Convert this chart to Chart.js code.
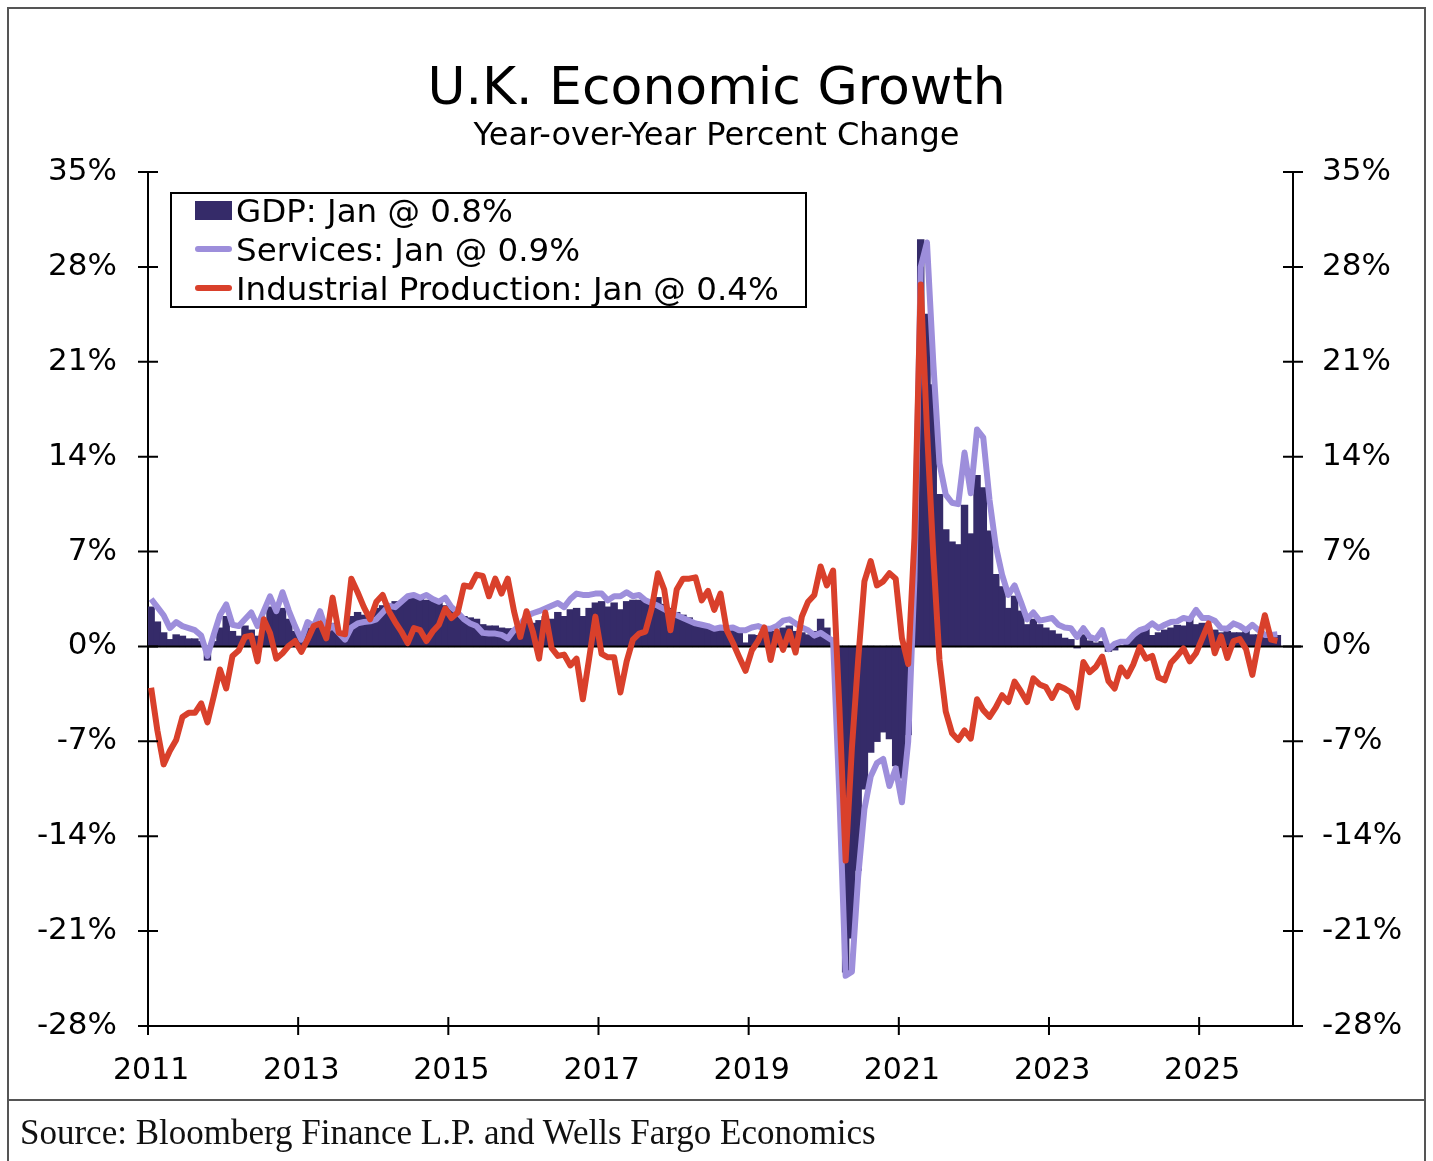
<!DOCTYPE html>
<html lang="en">
<head>
  <meta charset="UTF-8" />
  <title>U.K. Economic Growth</title>
  <script src="https://cdn.jsdelivr.net/npm/chart.js"></script>
  <style>
    body { margin: 0; background: #fff; }
    #page {
      position: relative;
      width: 1433px;
      height: 1161px;
      overflow: hidden;
      font-family: "DejaVu Sans", Verdana, sans-serif;
      color: #000;
    }
    #frame {
      position: absolute; left: 7px; top: 7px; width: 1419px; height: 1180px;
      border: 2px solid #555; box-sizing: border-box;
    }
    #rule { position: absolute; left: 7px; top: 1099px; width: 1419px; border-top: 2px solid #555; }
    canvas { position: absolute; left: 0; top: 0; }
    #title {
      position: absolute; left: 0; width: 1433px; top: 60px;
      text-align: center; font-size: 52px; line-height: 52px;
    }
    #subtitle {
      position: absolute; left: 0; width: 1433px; top: 118px;
      text-align: center; font-size: 32px; line-height: 32px;
    }
    #legend {
      position: absolute; left: 170px; top: 192px; width: 637px; height: 116px;
      border: 2px solid #000; box-sizing: border-box; background: #fff;
    }
    .row { position: absolute; left: 64px; font-size: 32.5px; line-height: 39px; white-space: nowrap; }
    .swatch { position: absolute; left: 23px; width: 37px; }
    #source {
      position: absolute; left: 20px; top: 1115px;
      font-family: "Liberation Serif", "Times New Roman", serif;
      font-size: 35px; line-height: 35px; color: #111;
    }
  </style>
</head>
<body>
<div id="page">
  <canvas id="growthChart" width="1433" height="1161"></canvas>
  <div id="frame"></div>
  <div id="rule"></div>
  <div id="title">U.K. Economic Growth</div>
  <div id="subtitle">Year-over-Year Percent Change</div>
  <div id="legend">
    <div class="swatch" style="top:7px;height:19px;background:#352b69;"></div>
    <div class="row" style="top:-2px;">GDP: Jan @ 0.8%</div>
    <div class="swatch" style="top:52px;height:6px;border-radius:3px;background:#9d8edb;"></div>
    <div class="row" style="top:37px;">Services: Jan @ 0.9%</div>
    <div class="swatch" style="top:91px;height:6px;border-radius:3px;background:#d9402b;"></div>
    <div class="row" style="top:76px;">Industrial Production: Jan @ 0.4%</div>
  </div>
  <div id="source">Source: Bloomberg Finance L.P. and Wells Fargo Economics</div>
</div>

<script>
  // monthly categories, Jan 2011 .. Mar 2026 (data ends Jan 2026)
  const monthLabels = [];
  for (let y = 2011; y <= 2026; y++) {
    for (let m = 1; m <= 12; m++) monthLabels.push(y + '-' + String(m).padStart(2, '0'));
  }
  monthLabels.length = 183;

  const yearTicks = ['2011', '2013', '2015', '2017', '2019', '2021', '2023', '2025'];
  const yTicks = [-28, -21, -14, -7, 0, 7, 14, 21, 28, 35];

  // GDP, year-over-year % (bars)
  const gdp = [
    2.9, 1.8, 1.0, 0.5, 0.85, 0.75, 0.55, 0.55, 0.35, -1.0, 0.35, 1.35,
    2.2, 1.1, 0.75, 1.5, 1.2, 0.75, 1.5, 2.9, 2.7, 2.8, 2.0, 1.1,
    0.6, 1.35, 1.5, 1.8, 1.1, 1.7, 1.1, 1.0, 2.2, 2.5, 2.3, 2.3,
    2.8, 3.0, 3.1, 3.3, 3.3, 3.5, 3.6, 3.5, 3.4, 3.4, 3.2, 3.0,
    2.8, 2.4, 2.2, 2.1, 2.0, 1.6, 1.5, 1.5, 1.35, 1.3, 1.3, 1.5,
    1.7, 1.7, 1.9, 2.2, 2.0, 2.5, 2.2, 2.7, 2.8, 2.2, 2.8, 3.2,
    3.3, 2.9, 3.2, 2.7, 3.3, 3.4, 3.4, 3.3, 3.4, 3.6, 3.1, 2.8,
    2.5, 2.3, 2.1, 1.8, 1.6, 1.5, 1.4, 1.4, 1.3, 1.2, 1.0, 0.25,
    0.85, 0.8, 1.0, 1.1, 1.1, 1.35, 1.5, 1.1, 1.0, 0.85, 1.1, 2.0,
    1.35, 0.6, -6.5, -24.0, -21.5, -16.5, -10.5, -7.8, -7.0, -6.3, -6.8, -8.8,
    -9.7, -6.5, 4.5, 30.0, 24.5, 19.3, 11.2, 8.6, 7.7, 7.5, 10.4, 8.3,
    12.6, 11.7, 8.5, 5.3, 4.4, 2.8, 3.7, 2.6, 1.6, 2.0, 1.6, 1.35,
    1.15, 0.9, 0.6, 0.5, -0.1, 0.85, 0.4, 0.25, 0.35, -0.35, -0.25, 0.05,
    0.2, 0.7, 1.05, 1.3, 0.8, 1.0, 1.2, 1.35, 1.55, 1.5, 2.2, 1.6,
    1.7, 1.35, 1.2, 1.0, 1.1, 1.0, 1.0, 1.2, 0.85, 0.85, 0.75, 0.8,
    0.8
  ];

  // Services, year-over-year %
  const services = [
    3.5, 2.9, 2.3, 1.35, 1.8, 1.5, 1.35, 1.2, 0.8, -0.7, 0.85, 2.3,
    3.1, 1.6, 1.5, 2.0, 2.5, 1.5, 2.6, 3.7, 2.6, 4.0, 2.65, 1.5,
    0.5, 1.8, 1.5, 2.6, 1.2, 1.5, 1.0, 0.5, 1.4, 1.7, 1.8, 1.85,
    2.0, 2.5, 3.0, 2.9, 3.3, 3.7, 3.8, 3.6, 3.8, 3.5, 3.3, 3.6,
    2.9, 2.5, 2.0, 1.7, 1.5, 1.0, 0.95, 0.95, 0.85, 0.6, 1.2, 1.6,
    2.25, 2.45, 2.6, 2.8, 3.0, 3.2, 2.9, 3.5, 3.9, 3.8, 3.8, 3.9,
    3.9, 3.4, 3.7, 3.7, 4.0, 3.7, 3.8, 3.4, 3.2, 3.0, 2.75, 2.5,
    2.3, 2.1, 1.9, 1.7, 1.6, 1.5, 1.3, 1.4, 1.35, 1.4, 1.2, 1.2,
    1.4, 1.5, 1.3, 1.3, 1.5, 1.9, 2.0, 1.7, 1.4, 1.2, 0.8, 1.0,
    0.7, 0.4, -11.0, -24.3, -24.0, -17.0, -12.0, -9.6, -8.6, -8.3, -10.3, -9.0,
    -11.5, -7.0, 5.0, 28.0, 29.8, 21.0, 13.5, 11.2, 10.6, 10.5, 14.3, 11.3,
    16.0, 15.4, 10.8, 7.4, 5.3, 3.8, 4.5, 3.3, 2.0, 2.5, 1.9, 2.0,
    2.1, 1.6, 1.4, 1.35, 0.7, 1.35, 0.7, 0.55, 1.2, -0.2, 0.2, 0.35,
    0.35, 0.85, 1.2, 1.35, 1.7, 1.35, 1.6, 1.8, 1.85, 2.1, 2.0, 2.7,
    2.1, 2.1, 1.9, 1.35, 1.3, 1.7, 1.5, 1.2, 1.6, 1.2, 0.85, 0.85,
    0.9
  ];

  // Industrial production, year-over-year %
  const industrial = [
    -3.05, -6.2, -8.7, -7.7, -6.9, -5.2, -4.9, -4.9, -4.2, -5.6, -3.7, -1.7,
    -3.1, -0.7, -0.3, 0.7, 0.8, -1.1, 2.0, 1.0, -0.9, -0.5, 0.05, 0.4,
    -0.4, 0.5, 1.5, 1.7, 0.6, 3.6, 1.0, 0.9, 5.0, 4.0, 2.9, 2.0,
    3.3, 3.8, 2.6, 1.8, 1.1, 0.25, 1.35, 1.2, 0.4, 1.1, 1.6, 2.8,
    2.1, 2.5, 4.5, 4.4, 5.3, 5.2, 3.7, 5.0, 3.9, 5.0, 2.6, 0.7,
    2.6, 1.1, -0.9, 2.5, -0.1, -0.7, -0.6, -1.4, -0.9, -3.9, -0.9, 2.2,
    -0.55, -0.8, -0.8, -3.4, -1.1, 0.5, 0.95, 1.1, 2.8, 5.4, 4.2, 1.2,
    4.2, 5.0, 5.0, 5.1, 3.4, 4.1, 2.7, 3.9, 1.2, 0.25, -0.8, -1.8,
    -0.3, 0.4, 1.4, -1.0, 1.1, -0.25, 1.1, -0.45, 2.2, 3.3, 3.8, 5.9,
    4.5, 5.6, -4.5, -15.8, -7.5, -1.0, 4.8, 6.3, 4.5, 4.8, 5.4, 5.0,
    0.6, -1.3, 8.0, 26.7, 16.0, 6.8, -1.0, -4.8, -6.4, -6.9, -6.2, -6.8,
    -3.9, -4.7, -5.2, -4.5, -3.6, -4.1, -2.6, -3.3, -4.1, -2.35, -2.8, -3.0,
    -3.8, -2.9, -3.1, -3.4, -4.5, -1.15, -1.9, -1.5, -0.75, -2.55, -3.1, -1.55,
    -2.2, -1.3, -0.05, -0.9, -0.7, -2.3, -2.5, -1.2, -0.7, -0.15, -1.1, -0.5,
    0.6, 1.7, -0.5, 0.75, -0.85, 0.4, 0.55, -0.2, -2.1, 0.3, 2.3, 0.5,
    0.4
  ];

  // zero line over the bars, crossing tick marks on all three axes
  const axisMarks = {
    id: 'axisMarks',
    afterDatasetDraw(chart, args) {
      if (args.index !== 0) return;
      const { ctx, chartArea, scales } = chart;
      const y0 = scales.y.getPixelForValue(0);
      ctx.save();
      ctx.strokeStyle = '#000';
      ctx.lineWidth = 2;
      ctx.beginPath();
      ctx.moveTo(chartArea.left, y0);
      ctx.lineTo(chartArea.right + 8, y0);
      ctx.stroke();
      ctx.restore();
    },
    afterDraw(chart) {
      const { ctx, chartArea, scales } = chart;
      ctx.save();
      ctx.strokeStyle = '#000';
      ctx.lineWidth = 2;
      ctx.beginPath();
      yTicks.forEach(v => {
        const p = scales.y.getPixelForValue(v);
        ctx.moveTo(chartArea.left - 10, p); ctx.lineTo(chartArea.left + 10, p);
        ctx.moveTo(chartArea.right - 10, p); ctx.lineTo(chartArea.right + 10, p);
      });
      monthLabels.forEach((lab, i) => {
        if (lab.endsWith('-01') && yearTicks.includes(lab.slice(0, 4))) {
          const p = scales.x.getPixelForValue(i - 0.5);
          ctx.moveTo(p, chartArea.bottom - 9); ctx.lineTo(p, chartArea.bottom + 9);
        }
      });
      ctx.stroke();
      ctx.restore();
    }
  };

  Chart.defaults.font.family = '"DejaVu Sans", Verdana, sans-serif';
  Chart.defaults.color = '#000';

  const yScale = (position, padding, width) => ({
    position,
    min: -28,
    max: 35,
    grid: { display: false, drawTicks: false },
    border: { display: true, color: '#000', width: 2 },
    ticks: { stepSize: 7, padding, font: { size: 31 }, color: '#000', callback: v => v + '%' },
    afterFit: s => { s.width = width; }
  });

  new Chart(document.getElementById('growthChart'), {
    type: 'bar',
    data: {
      labels: monthLabels,
      datasets: [
        {
          type: 'bar', label: 'GDP', data: gdp, yAxisID: 'y',
          backgroundColor: '#352b69', borderWidth: 0,
          barPercentage: 1, categoryPercentage: 1, inflateAmount: 0.6, order: 3
        },
        {
          type: 'line', label: 'Services', data: services, yAxisID: 'y',
          borderColor: '#9d8edb', borderWidth: 6, pointRadius: 0,
          borderJoinStyle: 'round', tension: 0, order: 2
        },
        {
          type: 'line', label: 'Industrial Production', data: industrial, yAxisID: 'y',
          borderColor: '#d9402b', borderWidth: 6, pointRadius: 0,
          borderJoinStyle: 'round', tension: 0, order: 1
        }
      ]
    },
    options: {
      responsive: false,
      animation: false,
      layout: { padding: { top: 172, bottom: 61, left: 0, right: 0 } },
      plugins: { legend: { display: false }, tooltip: { enabled: false } },
      scales: {
        x: {
          offset: true,
          grid: { display: false, drawTicks: false },
          border: { display: true, color: '#000', width: 2 },
          ticks: {
            autoSkip: false, maxRotation: 0, padding: 27,
            font: { size: 30 }, color: '#000',
            callback: (v, i) => {
              const lab = monthLabels[i];
              return lab.endsWith('-01') && yearTicks.includes(lab.slice(0, 4)) ? lab.slice(0, 4) : '';
            }
          },
          afterFit: s => { s.height = 74; }
        },
        y: yScale('left', 31, 148),
        y2: yScale('right', 29, 140)
      }
    },
    plugins: [axisMarks]
  });
</script>
</body>
</html>
